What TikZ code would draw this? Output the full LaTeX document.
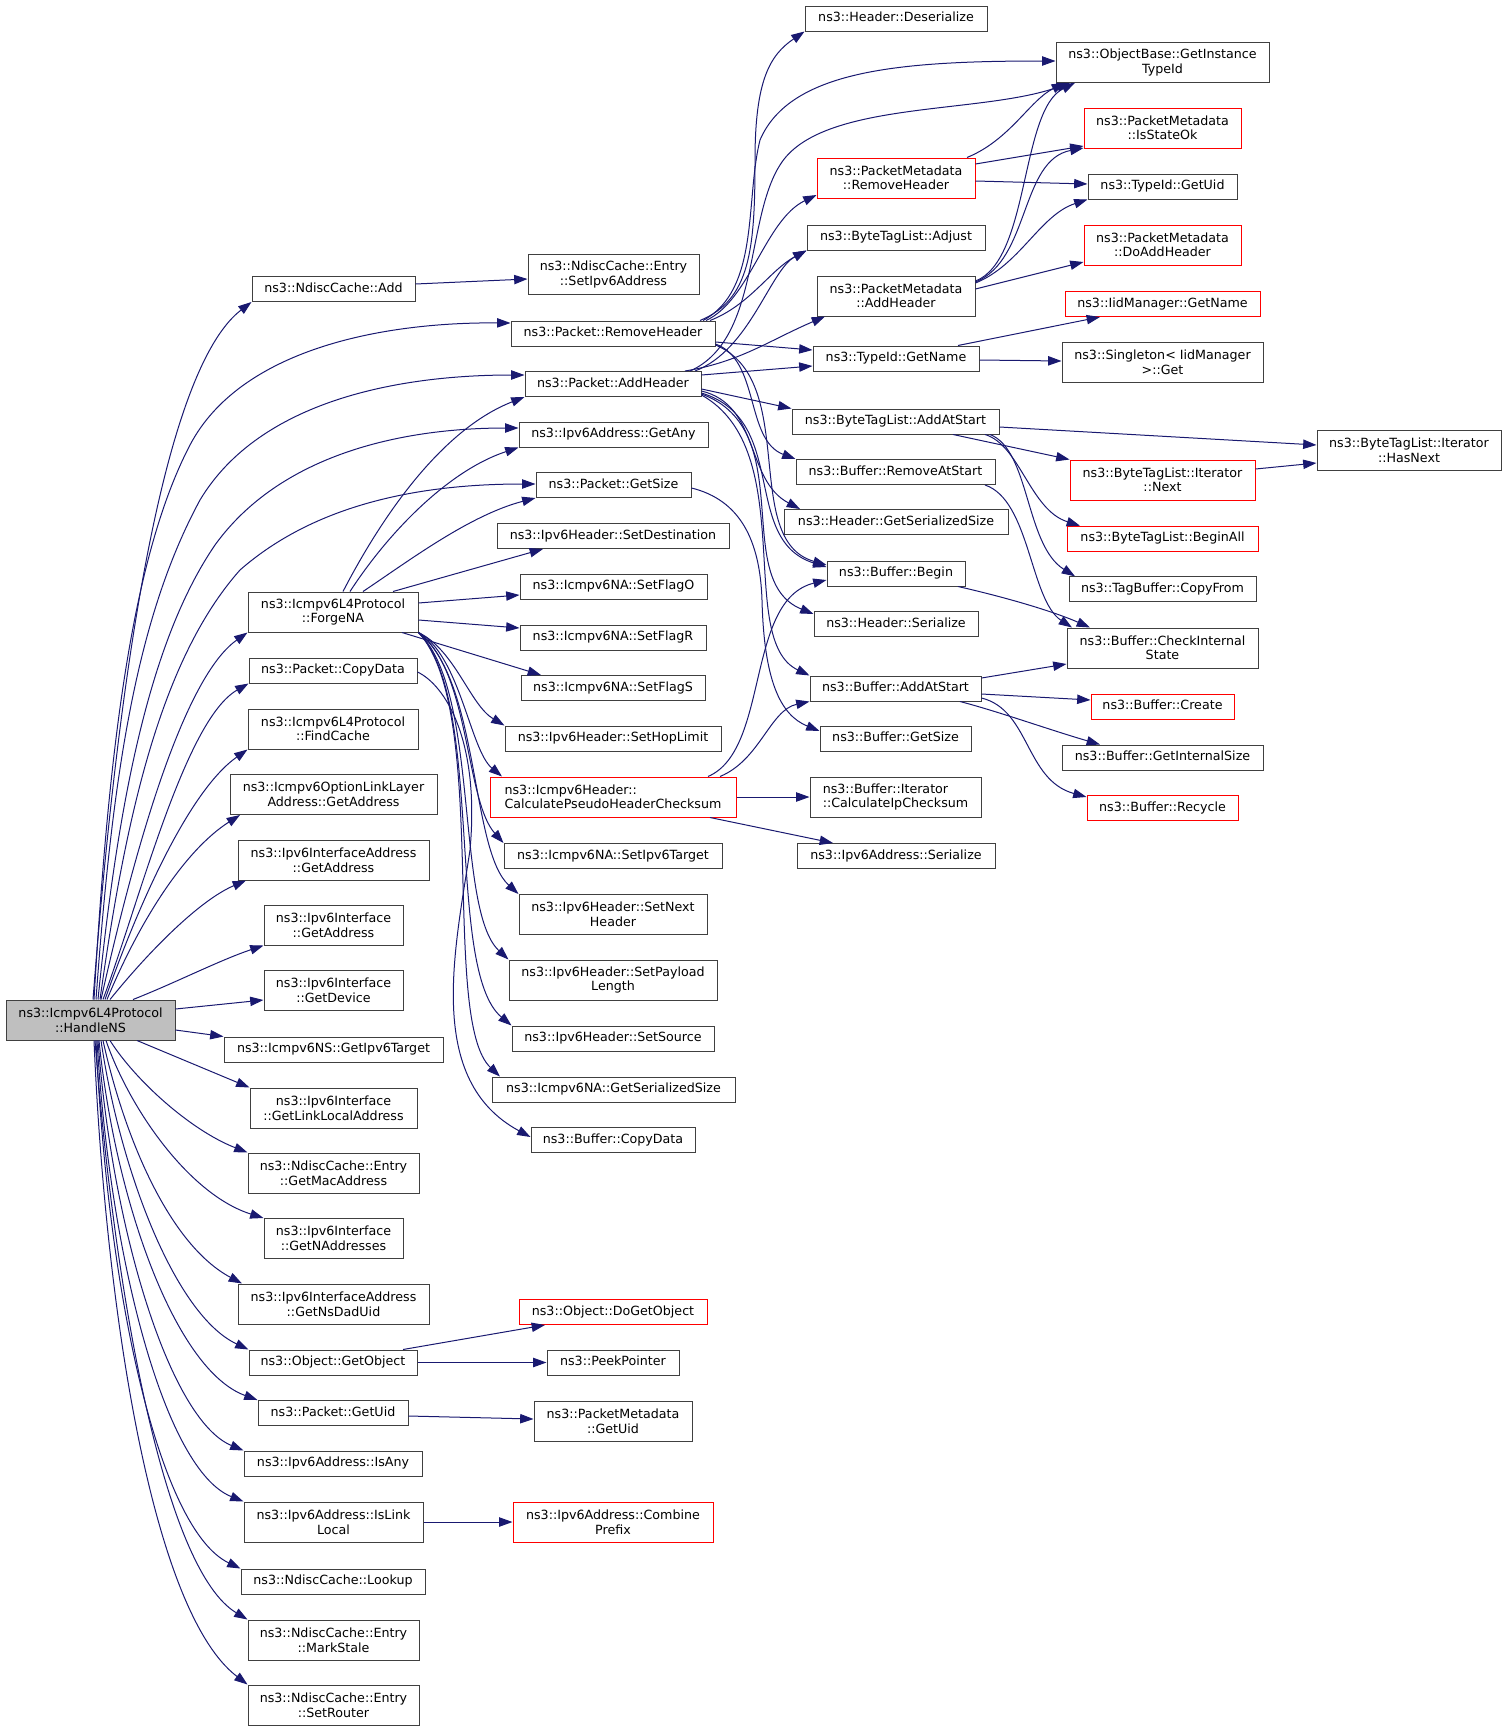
\documentclass[tikz,border=0pt]{standalone}
\usepackage{fontspec}
\setmainfont{DejaVu Sans}
\usepackage{xcolor}
\usetikzlibrary{arrows.meta, positioning, calc}
\definecolor{edgeblue}{RGB}{25,25,112}
\definecolor{boxline}{RGB}{64,64,64}
\definecolor{rootfill}{RGB}{191,191,191}
\definecolor{boxred}{RGB}{255,0,0}

\begin{document}
\begin{tikzpicture}[x=0.75pt, y=-0.75pt,
    >={Triangle[length=10pt,width=7pt]},
    fnbase/.style={draw=boxline, line width=0.75pt, fill=white, inner sep=0pt,
      font=\fontsize{9.5}{10.9}\selectfont, align=center},
    fn/.style={fnbase, minimum height=18.75pt, text height=7pt, text depth=2.2pt},
    fntwo/.style={fnbase, minimum height=30pt},
    boxw/.style={minimum width=#1*0.75pt},
    undoc/.style={draw=boxred},
    root/.style={fill=rootfill},
    call/.style={->, draw=edgeblue, line width=0.75pt}]
    \useasboundingbox (0,0) rectangle (1507,1731);

    % caller
    \node[fntwo, root, boxw=169] (handleNS) at (90.5,1020) {ns3::Icmpv6L4Protocol\\::HandleNS};

    % first column
    \node[fn, boxw=163] (ndiscAdd) at (333.5,289) {ns3::NdiscCache::Add};
    \node[fntwo, boxw=170] (forgeNA) at (333,612) {ns3::Icmpv6L4Protocol\\::ForgeNA};
    \node[fn, boxw=168] (pktCopyData) at (333,670.5) {ns3::Packet::CopyData};
    \node[fntwo, boxw=170] (findCache) at (333,729) {ns3::Icmpv6L4Protocol\\::FindCache};
    \node[fntwo, boxw=207] (optGetAddr) at (333.5,794.5) {ns3::Icmpv6OptionLinkLayer\\Address::GetAddress};
    \node[fntwo, boxw=191] (ifaceAddrGetAddr) at (333.5,860) {ns3::Ipv6InterfaceAddress\\::GetAddress};
    \node[fntwo, boxw=139] (ifaceGetAddr) at (333.5,925) {ns3::Ipv6Interface\\::GetAddress};
    \node[fntwo, boxw=139] (ifaceGetDev) at (333.5,990) {ns3::Ipv6Interface\\::GetDevice};
    \node[fn, boxw=219] (nsGetTarget) at (333.5,1049.5) {ns3::Icmpv6NS::GetIpv6Target};
    \node[fntwo, boxw=167] (ifaceLinkLocal) at (333.5,1108) {ns3::Ipv6Interface\\::GetLinkLocalAddress};
    \node[fntwo, boxw=171] (entryMac) at (333.5,1173) {ns3::NdiscCache::Entry\\::GetMacAddress};
    \node[fntwo, boxw=139] (ifaceNAddr) at (333.5,1238.5) {ns3::Ipv6Interface\\::GetNAddresses};
    \node[fntwo, boxw=191] (ifaceAddrDad) at (333.5,1304) {ns3::Ipv6InterfaceAddress\\::GetNsDadUid};
    \node[fn, boxw=168] (objGetObject) at (333,1362.5) {ns3::Object::GetObject};
    \node[fn, boxw=150] (pktGetUid) at (333,1413) {ns3::Packet::GetUid};
    \node[fn, boxw=178] (addrIsAny) at (333,1463.5) {ns3::Ipv6Address::IsAny};
    \node[fntwo, boxw=179] (addrIsLinkLocal) at (333.5,1522) {ns3::Ipv6Address::IsLink\\Local};
    \node[fn, boxw=184] (ndiscLookup) at (333,1581.5) {ns3::NdiscCache::Lookup};
    \node[fntwo, boxw=171] (entryMarkStale) at (333.5,1640) {ns3::NdiscCache::Entry\\::MarkStale};
    \node[fntwo, boxw=171] (entrySetRouter) at (333.5,1705) {ns3::NdiscCache::Entry\\::SetRouter};

    % second column
    \node[fntwo, boxw=171] (entrySetAddr) at (613.5,274.6) {ns3::NdiscCache::Entry\\::SetIpv6Address};
    \node[fn, boxw=204] (pktRemoveHdr) at (613,333.5) {ns3::Packet::RemoveHeader};
    \node[fn, boxw=176] (pktAddHdr) at (613,384) {ns3::Packet::AddHeader};
    \node[fn, boxw=189] (addrGetAny) at (613.5,434.5) {ns3::Ipv6Address::GetAny};
    \node[fn, boxw=155] (pktGetSize) at (613.5,485) {ns3::Packet::GetSize};
    \node[fn, boxw=232] (hdrSetDst) at (613,536) {ns3::Ipv6Header::SetDestination};
    \node[fn, boxw=187] (naSetFlagO) at (613.5,586.5) {ns3::Icmpv6NA::SetFlagO};
    \node[fn, boxw=186] (naSetFlagR) at (613,637.5) {ns3::Icmpv6NA::SetFlagR};
    \node[fn, boxw=184] (naSetFlagS) at (613,688) {ns3::Icmpv6NA::SetFlagS};
    \node[fn, boxw=216] (hdrSetHop) at (613,738.5) {ns3::Ipv6Header::SetHopLimit};
    \node[fntwo, undoc, align=left, boxw=246] (pseudoCsum) at (613,797) {ns3::Icmpv6Header::\\CalculatePseudoHeaderChecksum};
    \node[fn, boxw=218] (naSetTarget) at (613,856) {ns3::Icmpv6NA::SetIpv6Target};
    \node[fntwo, boxw=188] (hdrSetNext) at (613,914.5) {ns3::Ipv6Header::SetNext\\Header};
    \node[fntwo, boxw=208] (hdrSetPayload) at (613,980) {ns3::Ipv6Header::SetPayload\\Length};
    \node[fn, boxw=202] (hdrSetSrc) at (613,1038.5) {ns3::Ipv6Header::SetSource};
    \node[fn, boxw=243] (naSerSize) at (613.5,1089.5) {ns3::Icmpv6NA::GetSerializedSize};
    \node[fn, boxw=164] (bufCopyData) at (613,1140) {ns3::Buffer::CopyData};
    \node[fn, undoc, boxw=188] (objDoGet) at (613,1312) {ns3::Object::DoGetObject};
    \node[fn, boxw=132] (peekPtr) at (613,1362.5) {ns3::PeekPointer};
    \node[fntwo, boxw=158] (metaGetUid) at (613,1421) {ns3::PacketMetadata\\::GetUid};
    \node[fntwo, undoc, boxw=200] (addrCombine) at (613,1522) {ns3::Ipv6Address::Combine\\Prefix};

    % third column
    \node[fn, boxw=182] (hdrDeser) at (896,18.5) {ns3::Header::Deserialize};
    \node[fntwo, undoc, boxw=158] (metaRemoveHdr) at (896,178) {ns3::PacketMetadata\\::RemoveHeader};
    \node[fn, boxw=178] (tagAdjust) at (896,237.5) {ns3::ByteTagList::Adjust};
    \node[fntwo, boxw=158] (metaAddHdr) at (896,296) {ns3::PacketMetadata\\::AddHeader};
    \node[fn, boxw=166] (tidGetName) at (896,358.5) {ns3::TypeId::GetName};
    \node[fn, boxw=207] (tagAddAtStart) at (895.5,421.5) {ns3::ByteTagList::AddAtStart};
    \node[fn, boxw=199] (bufRemoveAtStart) at (895.5,472) {ns3::Buffer::RemoveAtStart};
    \node[fn, boxw=224] (hdrSerSize) at (896,522) {ns3::Header::GetSerializedSize};
    \node[fn, boxw=138] (bufBegin) at (896,573.5) {ns3::Buffer::Begin};
    \node[fn, boxw=164] (hdrSerialize) at (896,624) {ns3::Header::Serialize};
    \node[fn, boxw=171] (bufAddAtStart) at (895.5,688.5) {ns3::Buffer::AddAtStart};
    \node[fn, boxw=151] (bufGetSize) at (895.5,738.5) {ns3::Buffer::GetSize};
    \node[fntwo, align=left, boxw=171] (iterCsum) at (895.5,797) {ns3::Buffer::Iterator\\::CalculateIpChecksum};
    \node[fn, boxw=198] (addrSerialize) at (896,856) {ns3::Ipv6Address::Serialize};

    % fourth column
    \node[fntwo, boxw=213] (objTypeId) at (1162.5,62.3) {ns3::ObjectBase::GetInstance\\TypeId};
    \node[fntwo, undoc, boxw=157] (metaStateOk) at (1162.5,128) {ns3::PacketMetadata\\::IsStateOk};
    \node[fn, boxw=149] (tidGetUid) at (1162.5,186.5) {ns3::TypeId::GetUid};
    \node[fntwo, undoc, boxw=157] (metaDoAdd) at (1162.5,245) {ns3::PacketMetadata\\::DoAddHeader};
    \node[fn, undoc, boxw=195] (iidGetName) at (1162.5,304) {ns3::IidManager::GetName};
    \node[fntwo, boxw=201] (singletonGet) at (1162.5,362.3) {ns3::Singleton< IidManager\\>::Get};
    \node[fntwo, undoc, boxw=185] (iterNext) at (1162.5,480) {ns3::ByteTagList::Iterator\\::Next};
    \node[fn, undoc, boxw=191] (tagBeginAll) at (1162.5,538.7) {ns3::ByteTagList::BeginAll};
    \node[fn, boxw=187] (tagCopyFrom) at (1162.5,589.3) {ns3::TagBuffer::CopyFrom};
    \node[fntwo, boxw=191] (bufCheckState) at (1162.5,648) {ns3::Buffer::CheckInternal\\State};
    \node[fn, undoc, boxw=143] (bufCreate) at (1162.5,706.5) {ns3::Buffer::Create};
    \node[fn, boxw=201] (bufIntSize) at (1162.5,757.5) {ns3::Buffer::GetInternalSize};
    \node[fn, undoc, boxw=151] (bufRecycle) at (1162.5,808) {ns3::Buffer::Recycle};
    \node[fntwo, boxw=184] (iterHasNext) at (1409,450.4) {ns3::ByteTagList::Iterator\\::HasNext};

    % calls of HandleNS, upwards
    \draw[call] (handleNS.north -| 93,0) .. controls (110,780) and (150,380) .. (ndiscAdd.south west);
    \draw[call] (handleNS.north -| 94,0) .. controls (108,760) and (130,560) .. (190,445) .. controls (240,350) and (380,322) .. (pktRemoveHdr.west |- 0,323);
    \draw[call] (handleNS.north -| 96,0) .. controls (112,780) and (135,620) .. (200,500) .. controls (260,400) and (400,375) .. (pktAddHdr.west |- 0,375);
    \draw[call] (handleNS.north -| 98,0) .. controls (118,800) and (150,640) .. (215,545) .. controls (280,455) and (400,428) .. (addrGetAny.west |- 0,428);
    \draw[call] (handleNS.north -| 100,0) .. controls (125,820) and (160,660) .. (240,570) .. controls (320,500) and (430,484) .. (pktGetSize.west |- 0,484);
    \draw[call] (handleNS.north -| 101,0) .. controls (130,870) and (180,680) .. (forgeNA.south west);
    \draw[call] (handleNS.north -| 103,0) .. controls (140,900) and (185,720) .. (pktCopyData.south west);
    \draw[call] (handleNS.north -| 105,0) .. controls (140,900) and (190,790) .. (findCache.south west);
    \draw[call] (handleNS.north -| 107,0) .. controls (140,920) and (185,850) .. (optGetAddr.south -| 240,0);
    \draw[call] (handleNS.north -| 110,0) .. controls (150,950) and (200,900) .. (ifaceAddrGetAddr.south -| 246,0);
    \draw[call] (handleNS.north -| 133,0) .. controls (175,983) and (220,960) .. (ifaceGetAddr.south west);
    \draw[call] (handleNS.east |- 0,1009) -- (ifaceGetDev.west |- 0,1000);
    \draw[call] (handleNS.east |- 0,1030) -- (nsGetTarget.north west);

    % calls of HandleNS, downwards
    \draw[call] (handleNS.south -| 137,0) -- (ifaceLinkLocal.north west);
    \draw[call] (handleNS.south -| 110,0) .. controls (135,1080) and (190,1130) .. (entryMac.north west);
    \draw[call] (handleNS.south -| 106,0) .. controls (130,1110) and (190,1195) .. (ifaceNAddr.north west);
    \draw[call] (handleNS.south -| 103,0) .. controls (125,1140) and (170,1245) .. (ifaceAddrDad.north -| 242,0);
    \draw[call] (handleNS.south -| 101,0) .. controls (120,1170) and (175,1315) .. (objGetObject.north west);
    \draw[call] (handleNS.south -| 99,0) .. controls (115,1200) and (175,1370) .. (pktGetUid.north west);
    \draw[call] (handleNS.south -| 98,0) .. controls (112,1230) and (170,1420) .. (addrIsAny.north west);
    \draw[call] (handleNS.south -| 97,0) .. controls (110,1260) and (165,1470) .. (addrIsLinkLocal.north west);
    \draw[call] (handleNS.south -| 96,0) .. controls (108,1300) and (160,1530) .. (ndiscLookup.north west);
    \draw[call] (handleNS.south -| 95,0) .. controls (115,1300) and (165,1570) .. (entryMarkStale.north west);
    \draw[call] (handleNS.south -| 94,0) .. controls (105,1300) and (150,1610) .. (entrySetRouter.north west);

    % calls of ForgeNA
    \draw[call] (forgeNA.north -| 343,0) .. controls (380,520) and (440,430) .. (pktAddHdr.south west);
    \draw[call] (forgeNA.north -| 350,0) .. controls (390,530) and (450,470) .. (addrGetAny.south west);
    \draw[call] (forgeNA.north -| 363,0) .. controls (410,560) and (470,515) .. (pktGetSize.south west);
    \draw[call] (forgeNA.north -| 393,0) -- (hdrSetDst.south -| 543,0);
    \draw[call] (forgeNA.east |- 0,603) -- (naSetFlagO.west |- 0,595);
    \draw[call] (forgeNA.east |- 0,620) -- (naSetFlagR.west |- 0,628);
    \draw[call] (forgeNA.south -| 402,0) -- (naSetFlagS.north -| 541,0);
    \draw[call] (forgeNA.south east) .. controls (455,650) and (470,705) .. (hdrSetHop.north west);
    \draw[call] (forgeNA.south east) .. controls (460,655) and (470,750) .. (pseudoCsum.north -| 502,0);
    \draw[call] (forgeNA.south east) .. controls (470,670) and (465,800) .. (naSetTarget.north west);
    \draw[call] (forgeNA.south east) .. controls (480,680) and (470,850) .. (hdrSetNext.north west);
    \draw[call] (forgeNA.south east) .. controls (480,690) and (455,910) .. (hdrSetPayload.north west);
    \draw[call] (forgeNA.south east) .. controls (485,700) and (445,970) .. (hdrSetSrc.north west);
    \draw[call] (forgeNA.south east) .. controls (490,710) and (440,1020) .. (naSerSize.north -| 500,0);

    \draw[call] (pktCopyData.east |- 0,672) .. controls (445,685) and (480,740) .. (470,850) .. controls (455,950) and (425,1080) .. (bufCopyData.west |- 0,1137);
    \draw[call] (ndiscAdd.east |- 0,284) -- (entrySetAddr.west |- 0,279);

    % calls of RemoveHeader and AddHeader
    \draw[call] (pktRemoveHdr.north -| 700,0) .. controls (750,300) and (755,250) .. (755,160) .. controls (755,80) and (770,55) .. (hdrDeser.south west);
    \draw[call] (pktRemoveHdr.north -| 703,0) .. controls (760,290) and (745,200) .. (760,140) .. controls (790,70) and (900,61) .. (objTypeId.west |- 0,61);
    \draw[call] (pktRemoveHdr.north -| 706,0) .. controls (750,300) and (765,220) .. (metaRemoveHdr.west |- 0,195);
    \draw[call] (pktRemoveHdr.north -| 710,0) .. controls (750,305) and (770,270) .. (tagAdjust.south west);
    \draw[call] (pktRemoveHdr.east |- 0,342) -- (tidGetName.west |- 0,350);
    \draw[call] (pktRemoveHdr.east |- 0,344) .. controls (760,360) and (745,440) .. (bufRemoveAtStart.north west);
    \draw[call] (pktRemoveHdr.east |- 0,345) .. controls (800,380) and (740,540) .. (bufBegin.west |- 0,565);

    \draw[call] (pktAddHdr.north -| 690,0) .. controls (760,340) and (745,220) .. (780,165) .. controls (820,100) and (980,115) .. (objTypeId.south -| 1070,0);
    \draw[call] (pktAddHdr.north -| 695,0) .. controls (750,350) and (770,270) .. (tagAdjust.south west);
    \draw[call] (pktAddHdr.north -| 685,0) .. controls (740,362) and (770,340) .. (metaAddHdr.south -| 825,0);
    \draw[call] (pktAddHdr.east |- 0,375) -- (tidGetName.west |- 0,366);
    \draw[call] (pktAddHdr.east |- 0,389) -- (tagAddAtStart.north west);
    \draw[call] (pktAddHdr.east |- 0,391) .. controls (760,405) and (745,480) .. (hdrSerSize.north -| 800,0);
    \draw[call] (pktAddHdr.east |- 0,393) .. controls (790,420) and (740,540) .. (bufBegin.west |- 0,567);
    \draw[call] (pktAddHdr.east |- 0,394) .. controls (800,430) and (730,580) .. (hdrSerialize.west |- 0,614);
    \draw[call] (pktAddHdr.east |- 0,395) .. controls (800,450) and (735,640) .. (bufAddAtStart.north west);

    \draw[call] (pktGetSize.east |- 0,488) .. controls (740,500) and (760,540) .. (762,600) .. controls (764,680) and (780,715) .. (bufGetSize.west |- 0,731);

    % calls of CalculatePseudoHeaderChecksum
    \draw[call] (pseudoCsum.north -| 708,0) .. controls (770,750) and (745,600) .. (bufBegin.west |- 0,580);
    \draw[call] (pseudoCsum.north -| 720,0) .. controls (760,760) and (770,710) .. (bufAddAtStart.south west);
    \draw[call] (pseudoCsum.east) -- (iterCsum.west);
    \draw[call] (pseudoCsum.south -| 710,0) -- (addrSerialize.north -| 833,0);

    % third column to fourth
    \draw[call] (metaRemoveHdr.north -| 967,0) .. controls (1010,140) and (1030,100) .. (objTypeId.south -| 1065,0);
    \draw[call] (metaRemoveHdr.east |- 0,164) -- (metaStateOk.west |- 0,146);
    \draw[call] (metaRemoveHdr.east |- 0,181) -- (tidGetUid.west |- 0,184);
    \draw[call] (metaAddHdr.east |- 0,281) .. controls (1030,260) and (1020,110) .. (objTypeId.south -| 1075,0);
    \draw[call] (metaAddHdr.east |- 0,282) .. controls (1030,260) and (1020,160) .. (metaStateOk.west |- 0,148);
    \draw[call] (metaAddHdr.east |- 0,283) .. controls (1020,265) and (1040,215) .. (tidGetUid.south west);
    \draw[call] (metaAddHdr.east |- 0,289) -- (metaDoAdd.west |- 0,262);
    \draw[call] (tidGetName.north -| 958,0) -- (iidGetName.south -| 1100,0);
    \draw[call] (tidGetName.east |- 0,360) -- (singletonGet.west |- 0,361);
    \draw[call] (tagAddAtStart.east |- 0,427) -- (iterHasNext.west |- 0,445);
    \draw[call] (tagAddAtStart.south -| 953,0) -- (iterNext.north west);
    \draw[call] (tagAddAtStart.south -| 985,0) .. controls (1020,445) and (1030,510) .. (tagBeginAll.north -| 1080,0);
    \draw[call] (tagAddAtStart.south -| 990,0) .. controls (1030,450) and (1025,545) .. (tagCopyFrom.north -| 1075,0);
    \draw[call] (iterNext.east |- 0,469) -- (iterHasNext.west |- 0,463);
    \draw[call] (bufRemoveAtStart.south -| 985,0) .. controls (1030,500) and (1030,600) .. (bufCheckState.north -| 1072,0);
    \draw[call] (bufBegin.south -| 958,0) .. controls (1000,596) and (1050,610) .. (bufCheckState.north -| 1090,0);
    \draw[call] (bufAddAtStart.east |- 0,678) -- (bufCheckState.west |- 0,664);
    \draw[call] (bufAddAtStart.east |- 0,694) -- (bufCreate.west |- 0,700);
    \draw[call] (bufAddAtStart.south -| 960,0) .. controls (1000,712) and (1050,730) .. (bufIntSize.north -| 1100,0);
    \draw[call] (bufAddAtStart.east |- 0,698) .. controls (1030,710) and (1025,780) .. (bufRecycle.west |- 0,797);

    % lower calls
    \draw[call] (objGetObject.north -| 403,0) -- (objDoGet.south -| 545,0);
    \draw[call] (objGetObject.east) -- (peekPtr.west);
    \draw[call] (pktGetUid.east |- 0,1416) -- (metaGetUid.west |- 0,1419);
    \draw[call] (addrIsLinkLocal.east) -- (addrCombine.west);
\end{tikzpicture}
\end{document}
